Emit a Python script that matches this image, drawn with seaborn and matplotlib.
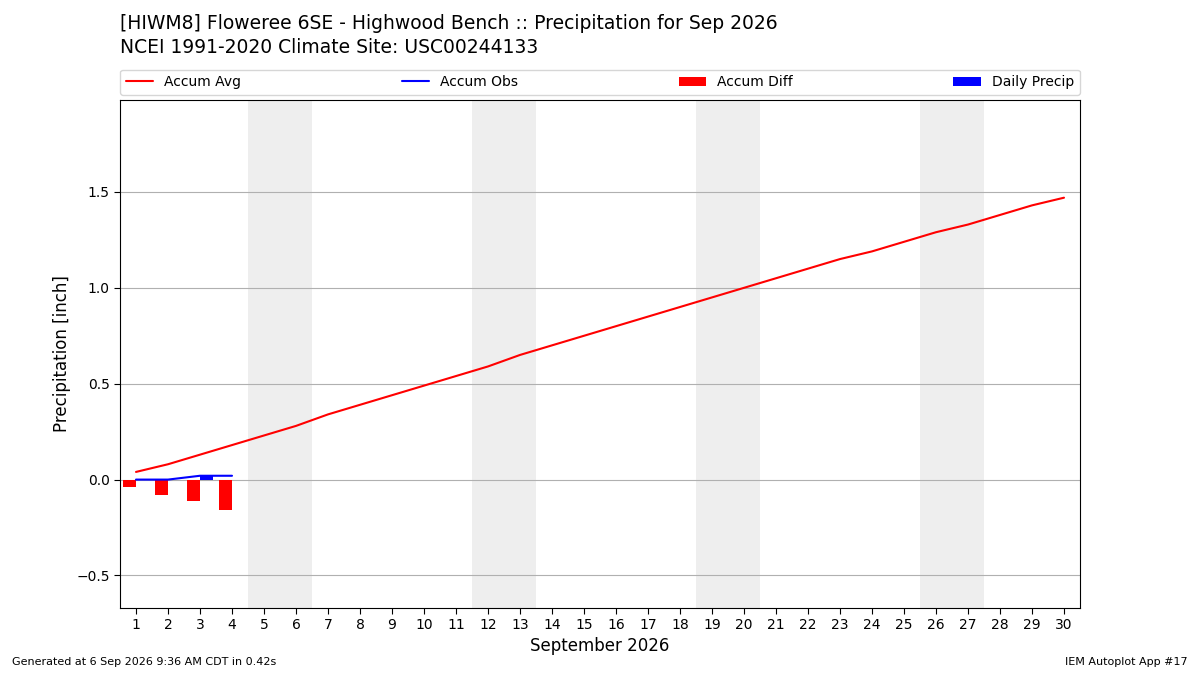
import matplotlib
matplotlib.use("Agg")
import matplotlib.pyplot as plt
import seaborn as sns
import numpy as np

days = list(range(1, 31))
accum_avg = [0.04, 0.08, 0.13, 0.18, 0.23, 0.28, 0.34, 0.39, 0.44, 0.49, 0.54, 0.59, 0.65, 0.70, 0.75,
             0.80, 0.85, 0.90, 0.95, 1.00, 1.05, 1.10, 1.15, 1.19, 1.24, 1.29, 1.33, 1.38, 1.43, 1.47]
obs_days = [1, 2, 3, 4]
accum_obs = [0.0, 0.0, 0.02, 0.02]
daily_precip = [0.0, 0.0, 0.02, 0.0]
accum_diff = [-0.04, -0.08, -0.11, -0.16]
weekends = [5, 12, 19, 26]

sns.set_style("white")
plt.rcParams['font.family'] = ['DejaVu Sans']
plt.rcParams.update({"text.color": "black", "axes.labelcolor": "black",
                     "xtick.color": "black", "ytick.color": "black"})
fig = plt.figure(figsize=(12, 6.75), dpi=100)
ax = fig.add_axes([0.1, 0.1, 0.8, 0.752])

for w in weekends:
    ax.axvspan(w - 0.5, w + 1.5, color="#eeeeee", zorder=0, linewidth=0)

sns.lineplot(x=days, y=accum_avg, color="red", ax=ax, label="Accum Avg", zorder=3)
sns.lineplot(x=obs_days, y=accum_obs, color="blue", ax=ax, label="Accum Obs", zorder=3)
ax.bar(np.array(obs_days) - 0.2, accum_diff, width=0.4, color="red", label="Accum Diff", zorder=2, linewidth=0)
ax.bar(np.array(obs_days) + 0.2, daily_precip, width=0.4, color="blue", label="Daily Precip", zorder=2, linewidth=0)

ax.set_xlim(0.5, 30.5)
ax.set_ylim(-0.667, 1.98)
ax.set_xticks(days)
ax.set_yticks([-0.5, 0, 0.5, 1.0, 1.5])
ax.yaxis.grid(True, color="#b0b0b0")
ax.set_axisbelow(True)
for s in ax.spines.values():
    s.set_color("black")
ax.tick_params(axis="both", direction="out", length=4, labelsize=10, left=True, bottom=True)
ax.set_xlabel("September 2026", fontsize=12)
ax.set_ylabel("Precipitation [inch]", fontsize=12)
ax.legend(loc="lower left", bbox_to_anchor=(0, 1.01, 1, 0.05), ncol=4, mode="expand",
          borderaxespad=0, fontsize=10, frameon=True)

fig.text(0.1, 0.965, "[HIWM8] Floweree 6SE - Highwood Bench :: Precipitation for Sep 2026", fontsize=13.5, va="center")
fig.text(0.1, 0.93, "NCEI 1991-2020 Climate Site: USC00244133", fontsize=13.5, va="center")
fig.text(0.01, 0.015, "Generated at 6 Sep 2026 9:36 AM CDT in 0.42s", fontsize=8)
fig.text(0.99, 0.015, "IEM Autoplot App #17", fontsize=8, ha="right")
fig.savefig("out.png", dpi=100)
